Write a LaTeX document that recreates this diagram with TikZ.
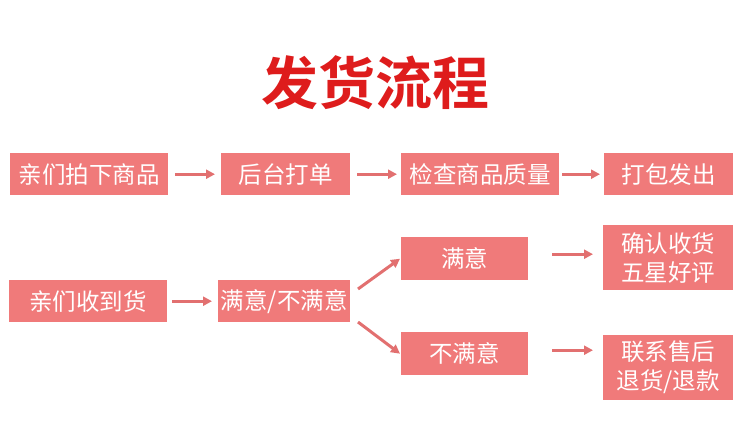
\documentclass[tikz,border=0pt]{standalone}
\usepackage{fontspec}
\newfontfamily\cjk{Noto Sans CJK SC}
\newfontfamily\cjkbold{Noto Sans CJK SC Bold}
\usetikzlibrary{arrows.meta}
\definecolor{boxfill}{RGB}{240,122,122}
\definecolor{arrowc}{RGB}{226,112,112}
\definecolor{titlered}{RGB}{222,28,28}
\tikzset{
  x=1pt, y=-1pt,
  box/.style={fill=boxfill, text=white, font=\cjk\fontsize{23.5}{27}\selectfont, inner sep=0pt, anchor=north west, align=center},
  twoline/.style={font=\cjk\fontsize{23.5}{29}\selectfont},
  conn/.style={draw=arrowc, line width=3pt, -{Triangle[length=9pt,width=9pt]}},
}
\begin{document}
\begin{tikzpicture}
\useasboundingbox (0,0) rectangle (752,447);
\node[text=titlered, font=\cjkbold\fontsize{57}{62}\selectfont] (title) at (375,83) {发货流程};
% row 1
\node[box, minimum width=158pt, minimum height=42pt] (a1) at (10,153) {亲们拍下商品};
\node[box, minimum width=129pt, minimum height=42pt] (a2) at (221,153) {后台打单};
\node[box, minimum width=158pt, minimum height=42pt] (a3) at (401,153) {检查商品质量};
\node[box, minimum width=129pt, minimum height=42pt] (a4) at (604,153) {打包发出};
\draw[conn] ([xshift=7pt]a1.east) -- ([xshift=-6pt]a2.west);
\draw[conn] ([xshift=7pt]a2.east) -- ([xshift=-4pt]a3.west);
\draw[conn] ([xshift=3pt]a3.east) -- ([xshift=-4pt]a4.west);
% row 2
\node[box, minimum width=158pt, minimum height=42pt] (b1) at (9,280) {亲们收到货};
\node[box, minimum width=132pt, minimum height=42pt] (b2) at (218,280) {满意/不满意};
\node[box, minimum width=127pt, minimum height=43pt] (c1) at (401,237) {满意};
\node[box, minimum width=127pt, minimum height=43pt] (c2) at (401,332) {不满意};
\node[box, twoline, minimum width=130pt, minimum height=65pt] (d1) at (603,225) {确认收货\\五星好评};
\node[box, twoline, minimum width=130pt, minimum height=65pt] (d2) at (603,335) {联系售后\\退货/退款};
\coordinate (s1) at (358,289);
\coordinate (s2) at (358,322);
\draw[conn] ([xshift=5pt]b1.east) -- ([xshift=-6pt]b2.west);
\draw[conn] (s1) -- ([xshift=-1pt]c1.west);
\draw[conn] (s2) -- ([xshift=-1pt]c2.west);
\draw[conn] ([xshift=24pt,yshift=4.5pt]c1.east) -- ([xshift=-10pt,yshift=4.5pt]c1.east -| d1.west);
\draw[conn] ([xshift=24pt,yshift=3.5pt]c2.east) -- ([xshift=-10pt,yshift=3.5pt]c2.east -| d2.west);
\end{tikzpicture}
\end{document}
